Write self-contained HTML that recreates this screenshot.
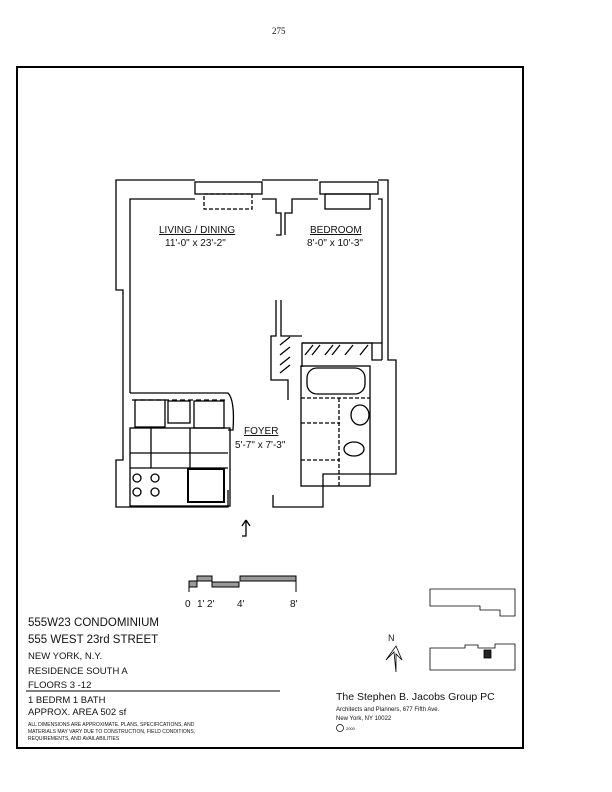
<!DOCTYPE html>
<html><head><meta charset="utf-8"><style>
html,body{margin:0;padding:0;background:#fff}
svg{display:block}
text{font-family:"Liberation Sans",sans-serif;fill:#111}
</style></head><body>
<svg width="612" height="792" viewBox="0 0 612 792" xmlns="http://www.w3.org/2000/svg">
<text x="272" y="34" font-family="Liberation Serif" font-size="9" style="font-family:'Liberation Serif',serif">275</text>
<rect x="17" y="67" width="506" height="681" fill="none" stroke="#000" stroke-width="2"/>
<g fill="none" stroke="#000" stroke-width="1.3">
<!-- outer walls -->
<polyline points="195,180 116,180 116,290 123,290 123,460 116,460 116,507 228,507 228,490"/>
<polyline points="262,180 318,180"/>
<polyline points="378,180 388,180 388,360 396,360 396,474 323,474 323,507 273,507 273,495"/>
<!-- inner walls -->
<polyline points="195,199 130,199 130,393"/>
<polyline points="262,199 276,199 276,213 281,213 281,235 276,235"/>
<polyline points="318,199 292,199 292,213 285,213 285,235"/>
<polyline points="378,199 382,199 382,360"/>
<polyline points="382,360 372,360 372,343 302,343 302,367"/>
<polyline points="276,300 276,336 271,336 271,380 288,380 288,400"/>
<polyline points="281,300 281,336 302,336"/>
<rect x="301" y="366" width="69" height="120"/>
<rect x="307" y="368" width="58" height="26" rx="10"/>
<ellipse cx="360" cy="415" rx="9" ry="10"/>
<ellipse cx="354" cy="449" rx="10" ry="7"/>
<line x1="301" y1="398" x2="370" y2="398" stroke-dasharray="4 2"/>
<line x1="301" y1="423" x2="340" y2="423" stroke-dasharray="4 2"/>
<line x1="301" y1="460" x2="340" y2="460" stroke-dasharray="4 2"/>
<line x1="339" y1="398" x2="339" y2="486" stroke-dasharray="4 2"/>
<!-- windows -->
<rect x="195" y="182" width="67" height="12"/>
<rect x="204" y="194" width="48" height="15" stroke-dasharray="4 2"/>
<rect x="320" y="182" width="58" height="12"/>
<rect x="325" y="194" width="45" height="15"/>
<!-- closet hatch -->
<line x1="302" y1="343" x2="382" y2="343"/>
<path d="M305,355 l8,-10 M312,355 l8,-10 M325,355 l8,-10 M332,355 l8,-10 M345,355 l8,-10 M360,355 l8,-10 M280,345 l10,-8 M280,355 l10,-8 M280,365 l10,-8 M280,373 l10,-8"/>
<!-- kitchen -->
<path d="M130,393 L228,393 Q235,400 233,430 L228,430"/>
<line x1="132" y1="400" x2="228" y2="400" stroke-dasharray="5 3"/>
<rect x="135" y="400" width="30" height="27"/>
<rect x="168" y="401" width="22" height="22"/>
<rect x="194" y="401" width="30" height="27"/>
<rect x="130" y="428" width="100" height="78"/>
<line x1="130" y1="453" x2="228" y2="453"/>
<line x1="130" y1="468" x2="228" y2="468"/>
<line x1="151" y1="428" x2="151" y2="468"/>
<line x1="190" y1="428" x2="190" y2="468"/>
<rect x="188" y="469" width="36" height="33" stroke-width="2"/>
<circle cx="137" cy="478" r="4"/><circle cx="155" cy="478" r="4"/>
<circle cx="137" cy="492" r="4"/><circle cx="155" cy="492" r="4"/>
<!-- entry arrow -->
<path d="M246,520 l0,16 l-4,0 M246,520 l-4,6 M246,520 l4,6"/>
</g>
<text x="159" y="233" font-size="10" text-decoration="underline">LIVING / DINING</text>
<text x="165" y="246" font-size="10">11'-0" x 23'-2"</text>
<text x="310" y="233" font-size="10" text-decoration="underline">BEDROOM</text>
<text x="307" y="246" font-size="10">8'-0" x 10'-3"</text>
<text x="244" y="434" font-size="10" text-decoration="underline">FOYER</text>
<text x="235" y="448" font-size="10">5'-7" x 7'-3"</text>
<!-- scale bar -->
<g stroke="#000" stroke-width="1" fill="#999">
<rect x="189" y="581" width="8" height="6"/>
<rect x="197" y="576" width="15" height="5"/>
<rect x="212" y="582" width="27" height="5"/>
<rect x="240" y="576" width="56" height="5"/>
<line x1="189" y1="581" x2="189" y2="592"/><line x1="296" y1="576" x2="296" y2="592"/>
</g>
<text x="185" y="607" font-size="10">0</text><text x="197" y="607" font-size="10">1'</text>
<text x="207" y="607" font-size="10">2'</text><text x="237" y="607" font-size="10">4'</text>
<text x="290" y="607" font-size="10">8'</text>
<text x="28" y="626" font-size="11.5">555W23 CONDOMINIUM</text>
<text x="28" y="643" font-size="11.5">555 WEST 23rd STREET</text>
<text x="28" y="659" font-size="9.5">NEW YORK,  N.Y.</text>
<text x="28" y="674" font-size="9.5">RESIDENCE SOUTH A</text>
<text x="28" y="688" font-size="9.5">FLOORS 3 -12</text>
<line x1="26" y1="691" x2="280" y2="691" stroke="#000" stroke-width="1"/>
<text x="28" y="703" font-size="9.5">1 BEDRM       1 BATH</text>
<text x="28" y="715" font-size="9.5">APPROX.  AREA 502 sf</text>
<text x="28" y="726" font-size="5">ALL DIMENSIONS ARE APPROXIMATE. PLANS, SPECIFICATIONS, AND</text>
<text x="28" y="733" font-size="5">MATERIALS MAY VARY DUE TO CONSTRUCTION, FIELD CONDITIONS,</text>
<text x="28" y="740" font-size="5">REQUIREMENTS, AND AVAILABILITIES</text>
<text x="336" y="700" font-size="10.5">The Stephen B. Jacobs Group PC</text>
<text x="336" y="711" font-size="6">Architects and Planners, 677 Fifth Ave.</text>
<text x="336" y="720" font-size="6">New York,  NY 10022</text>
<circle cx="340" cy="728" r="3.5" fill="none" stroke="#000" stroke-width="0.7"/>
<text x="346" y="730" font-size="4">2000</text>
<text x="388" y="641" font-size="9">N</text>
<path d="M396,672 L394,652 L386,660 L396,646 L402,660 L396,654 Z" fill="none" stroke="#000" stroke-width="0.8"/>
<g fill="none" stroke="#000" stroke-width="0.8">
<path d="M430,589 L515,589 L515,616 L500,616 L500,610 L480,610 L480,606 L430,606 Z"/>
<path d="M430,648 L465,648 L465,645 L478,645 L478,648 L495,648 L495,644 L515,644 L515,670 L430,670 Z"/>
<rect x="484" y="650" width="7" height="8" fill="#222"/>
</g>
</svg>
</body></html>
